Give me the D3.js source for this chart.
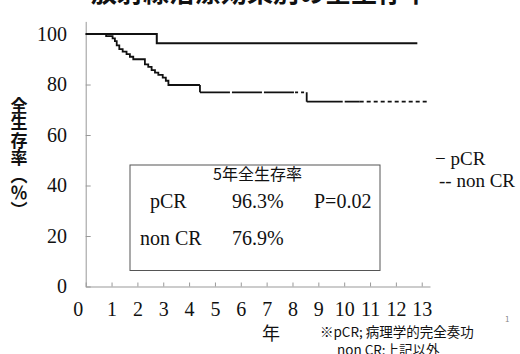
<!DOCTYPE html>
<html><head><meta charset="utf-8">
<script src="https://cdn.jsdelivr.net/npm/d3@7"></script>
<style>
body{margin:0;background:#fff;}
svg{display:block;}
</style></head>
<body>
<svg id="c" width="520" height="354"></svg>
<script>
// ---- data ----
const title = "放射線治療効果別の全生存率";
const xTicks = [0,1,2,3,4,5,6,7,8,9,10,11,12,13];
const yTicks = [0,20,40,60,80,100];
// Kaplan-Meier steps: [year, survival %]
const pcrSteps = [[0,100],[2.75,96.3],[12.83,96.3]];
const nonCrSteps = [[0,100],[0.79,99.2],[1.04,98.3],[1.13,97.2],[1.2,95.5],[1.3,94],[1.43,93],
  [1.58,92],[1.71,91],[1.84,90],[2.29,88],[2.42,87],[2.55,85.7],[2.68,84.7],[2.81,83.8],
  [2.98,82.7],[3.1,81.5],[3.2,79.8],[4.42,76.9],[8.55,73.2],[13.3,73.2]];
const legendLabels = ["− pCR","-- non CR"];
const boxTitle = "5年全生存率";
const boxRows = [["pCR","96.3%","P=0.02"],["non CR","76.9%",""]];
const yTitle = "全生存率（％）";
const xTitle = "年";
const notes = ["※pCR; 病理学的完全奏功","non CR:上記以外"];

const svg = d3.select("#c");
const serif = "'Liberation Serif', 'Times New Roman', serif";
const cjk = "'Noto Sans CJK JP', 'Noto Sans', sans-serif";

const x = d3.scaleLinear().domain([0,13.32]).range([85.7,430]);
const y = d3.scaleLinear().domain([0,105]).range([286.5,21.4]);

// title (cut off at top, as in the original)
svg.append("text").attr("x",260).attr("y",2).attr("text-anchor","middle")
  .style("font-family",cjk).style("font-weight","bold").style("font-size","26px")
  .attr("fill","#111").text(title);

// axes
const gx = svg.append("g").attr("transform",`translate(0,${y(0)})`)
  .call(d3.axisBottom(x).tickValues(xTicks).tickSizeInner(-4).tickSizeOuter(0).tickPadding(15).tickFormat(d3.format("d")));
const gy = svg.append("g").attr("transform",`translate(${x(0)},0)`)
  .call(d3.axisLeft(y).tickValues(yTicks).tickSizeInner(-5).tickSizeOuter(0).tickPadding(18.7).tickFormat(d3.format("d")));
[gx,gy].forEach(g=>{
  g.attr("font-family",null).attr("font-size",null);
  g.select(".domain").attr("stroke","#999");
  g.selectAll(".tick line").attr("stroke","#999");
  g.selectAll(".tick text").attr("fill","#111").style("font-family",serif).style("font-size","20px");
});
gx.selectAll(".tick text").attr("dx",d=>d===0?-8:0);

// step paths
function stepPath(steps){
  return d3.line().x(d=>x(d[0])).y(d=>y(d[1])).curve(d3.curveStepAfter)(steps);
}
svg.append("path").attr("d",stepPath(pcrSteps)).attr("fill","none")
  .attr("stroke","#111").attr("stroke-width",2);

// non-CR drawn as sections with different dash styles
const sections = [[0,4.42,null],[4.42,8.1,"30,2"],[8.1,8.55,"3,3"],[8.55,10.6,"36,2"],[10.6,13.3,"4,3"]];
function clipSteps(steps,a,b){
  const out=[];
  const valAt=t=>{let v=steps[0][1];for(const s of steps){if(s[0]<=t)v=s[1];}return v;};
  out.push([a,valAt(a)]);
  steps.forEach(s=>{if(s[0]>a&&s[0]<b)out.push(s);});
  out.push([b,valAt(b-1e-9)]);
  return out;
}
sections.forEach(([a,b,dash])=>{
  const p = svg.append("path").attr("d",stepPath(clipSteps(nonCrSteps,a,b))).attr("fill","none")
    .attr("stroke","#111").attr("stroke-width",1.8);
  if(dash) p.attr("stroke-dasharray",dash);
});
// vertical drop edges at section boundaries
svg.append("path").attr("d",
  `M${x(4.42)},${y(79.8)}V${y(76.9)}M${x(8.55)},${y(76.9)}V${y(73.2)}`)
  .attr("stroke","#111").attr("stroke-width",1.8).attr("fill","none");

// summary box
svg.append("rect").attr("x",130).attr("y",165).attr("width",250).attr("height",105.5)
  .attr("fill","#fff").attr("stroke","#555").attr("stroke-width",1);
svg.append("text").attr("x",257.5).attr("y",180).attr("text-anchor","middle")
  .style("font-family",cjk).style("font-size","16px").attr("fill","#111").text(boxTitle);
const colX=[0,232,314];
boxRows.forEach((row,i)=>{
  row.forEach((t,j)=>{
    svg.append("text").attr("x",j===0?(i===0?150:140):colX[j]).attr("y",208+i*37)
      .style("font-family",serif).style("font-size","20px").attr("fill","#111").text(t);
  });
});

// legend
legendLabels.forEach((t,i)=>{
  svg.append("text").attr("x",i===0?435:439).attr("y",165+i*22)
    .style("font-family",serif).style("font-size","19px").attr("fill","#111").text(t);
});

// y title, vertical writing
svg.append("text").attr("x",19).attr("y",97)
  .style("writing-mode","vertical-rl").style("text-orientation","mixed")
  .style("font-family",cjk).style("font-weight","bold").style("font-size","17px")
  .style("letter-spacing","0.4px").attr("fill","#111").text(yTitle);

// x title
svg.append("text").attr("x",271).attr("y",340).attr("text-anchor","middle")
  .style("font-family",cjk).style("font-size","18px").attr("fill","#111").text(xTitle);

// notes
svg.append("text").attr("x",320).attr("y",337).style("font-family",cjk).style("font-size","13.5px").attr("fill","#111").text(notes[0]);
svg.append("text").attr("x",337).attr("y",355).style("font-family",cjk).style("font-size","13.5px").attr("fill","#111").text(notes[1]);
// page number
svg.append("text").attr("x",505).attr("y",322).style("font-family",cjk).style("font-size","8px").attr("fill","#888").text("1");
</script>
</body></html>
